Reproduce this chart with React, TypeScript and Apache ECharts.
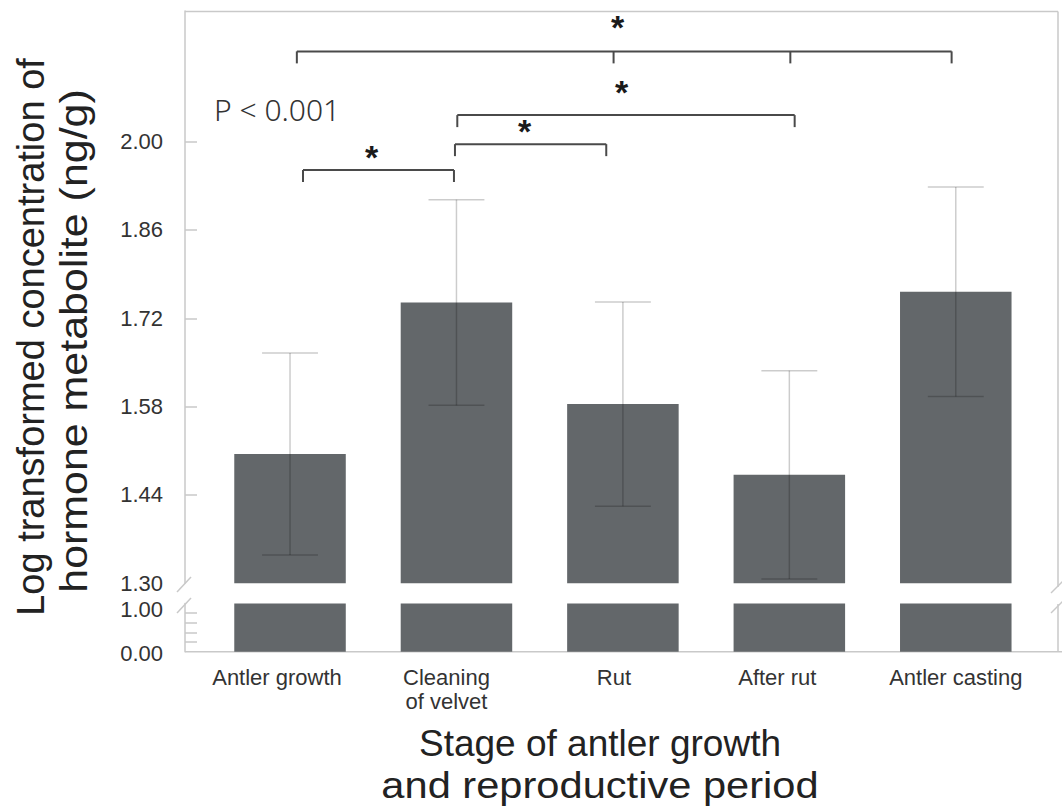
import React, { useEffect, useRef } from "react";
import * as echarts from "echarts";

// ---- data ----
const categories = ["Antler growth", "Cleaning\nof velvet", "Rut", "After rut", "Antler casting"];
const means = [1.505, 1.745, 1.584, 1.472, 1.762];
const errors = [0.16, 0.163, 0.162, 0.165, 0.166];
const upperTicks = [1.3, 1.44, 1.58, 1.72, 1.86, 2.0];
const upperMinorTicks = [1.44, 1.58, 1.72, 1.86, 2.0];
const lowerTicks = [0.0, 1.0];
const lowerMinorTicks = [0.2, 0.4, 0.6, 0.8];
// significance brackets: level (y value) and end/tick positions (category units)
const bracketLevels = [1.955, 1.996, 2.042, 2.143];
const bracketEnds = [
  [0.078, 0.985],
  [0.991, 1.9],
  [1.005, 3.032],
  [0.041, 1.944, 3.006, 3.975],
];
const starX = [0.49, 1.409, 1.992, 1.968];
const starY = [1.982, 2.023, 2.085, 2.188];
const pText = "P < 0.001";
const yTitle = ["Log transformed concentration of", "hormone metabolite (ng/g)"];
const xTitle = ["Stage of antler growth", "and reproductive period"];

// ---- layout / style ----
const BASE = 1.3;
const UPPER_MAX = 2.207;
const W = 1062;
const H = 809;
const GRID_LEFT = 206.8;
const GRID_RIGHT = 23;
const UP_TOP = 11;
const UP_BOTTOM = 583.3;
const LO_TOP = 603.5;
const LO_BOTTOM = 651.7;
const AXIS_X = 185;
const FRAME_R = 1058;
const BAR_COLOR = "#63676a";
const AXIS_COLOR = "#c9c9c9";
const FONT = "'Liberation Sans', Arial, sans-serif";
const labelShift = [26, 20, 18, 24, 0];

export default function App() {
  const ref = useRef<HTMLDivElement>(null);
  useEffect(() => {
    if (!ref.current) return;
    const chart = echarts.init(ref.current, null, { renderer: "svg" });

    const lineStyle = { stroke: AXIS_COLOR, lineWidth: 1.5 };
    const line = (x1: number, y1: number, x2: number, y2: number) => ({
      type: "line",
      shape: { x1, y1, x2, y2 },
      style: lineStyle,
      silent: true,
    });

    const yLabel = {
      margin: 22,
      fontSize: 22,
      color: "#333",
      fontFamily: FONT,
    };

    const titleText = (text: string, x: number, y: number, rotation: number, scaleX: number, fontSize: number) => ({
      type: "text",
      x,
      y,
      rotation,
      scaleX,
      style: {
        text,
        fontSize,
        fontFamily: FONT,
        fill: "#222",
        align: "center",
        verticalAlign: "middle",
      },
    });

    const option: any = {
      animation: false,
      backgroundColor: "#ffffff",
      grid: [
        { left: GRID_LEFT, right: GRID_RIGHT, top: UP_TOP, height: UP_BOTTOM - UP_TOP },
        { left: GRID_LEFT, right: GRID_RIGHT, top: LO_TOP, height: LO_BOTTOM - LO_TOP },
      ],
      xAxis: [
        { type: "category", gridIndex: 0, data: categories, show: false },
        {
          type: "category",
          gridIndex: 1,
          data: categories.map((c, i) => ({ value: c, textStyle: { padding: [0, labelShift[i], 0, 0] } })),
          axisLine: { show: false },
          axisTick: { show: false },
          axisLabel: {
            margin: 14,
            fontSize: 22,
            lineHeight: 24,
            color: "#333",
            fontFamily: FONT,
            interval: 0,
          },
        },
        { type: "value", gridIndex: 0, min: -0.5, max: 4.5, show: false },
      ],
      yAxis: [
        {
          type: "value",
          gridIndex: 0,
          min: 0,
          max: UPPER_MAX - BASE,
          offset: GRID_LEFT - AXIS_X,
          splitLine: { show: false },
          axisLine: { show: true, onZero: false, lineStyle: { color: AXIS_COLOR, width: 1.5 } },
          axisTick: {
            show: true,
            inside: true,
            length: 12,
            lineStyle: { color: AXIS_COLOR, width: 1.5 },
            customValues: upperMinorTicks.map((t) => +(t - BASE).toFixed(4)),
          },
          axisLabel: {
            ...yLabel,
            lineHeight: 22,
            customValues: upperTicks.map((t) => +(t - BASE).toFixed(4)),
            formatter: (v: number) => (v + BASE).toFixed(2),
          },
        },
        {
          type: "value",
          gridIndex: 1,
          min: 0,
          max: 1,
          offset: GRID_LEFT - AXIS_X,
          splitLine: { show: false },
          axisLine: { show: true, onZero: false, lineStyle: { color: AXIS_COLOR, width: 1.5 } },
          axisTick: {
            show: true,
            inside: true,
            length: 12,
            lineStyle: { color: AXIS_COLOR, width: 1.5 },
            customValues: lowerMinorTicks,
          },
          axisLabel: {
            ...yLabel,
            customValues: lowerTicks,
            formatter: (v: number) => (v >= 1 ? "{hi|" + v.toFixed(2) + "}" : "{lo|" + v.toFixed(2) + "}"),
            rich: {
              hi: { fontSize: 22, fontFamily: FONT, color: "#333", lineHeight: 22, padding: [12, 0, 0, 0] },
              lo: { fontSize: 22, fontFamily: FONT, color: "#333", lineHeight: 22, padding: [4, 0, 0, 0] },
            },
          },
        },
      ],
      series: [
        {
          type: "bar",
          xAxisIndex: 0,
          yAxisIndex: 0,
          data: means.map((m) => m - BASE),
          barWidth: "67%",
          itemStyle: { color: BAR_COLOR },
          silent: true,
        },
        {
          type: "bar",
          xAxisIndex: 1,
          yAxisIndex: 1,
          data: means.map((m) => Math.min(m, 1)),
          barWidth: "67%",
          itemStyle: { color: BAR_COLOR },
          silent: true,
        },
        {
          type: "custom",
          xAxisIndex: 0,
          yAxisIndex: 0,
          silent: true,
          data: means.map((m, i) => [i, m - errors[i] - BASE, m + errors[i] - BASE]),
          renderItem: (params: any, api: any) => {
            const x = api.value(0);
            const lo = api.coord([x, api.value(1)]);
            const hi = api.coord([x, api.value(2)]);
            const half = api.size([1, 0])[0] * 0.168;
            const st = { stroke: "rgba(0,0,0,0.2)", lineWidth: 1.5 };
            return {
              type: "group",
              children: [
                { type: "line", shape: { x1: lo[0], y1: lo[1], x2: hi[0], y2: hi[1] }, style: st },
                { type: "line", shape: { x1: hi[0] - half, y1: hi[1], x2: hi[0] + half, y2: hi[1] }, style: st },
                { type: "line", shape: { x1: lo[0] - half, y1: lo[1], x2: lo[0] + half, y2: lo[1] }, style: st },
              ],
            };
          },
          z: 5,
        },
        {
          type: "custom",
          xAxisIndex: 2,
          yAxisIndex: 0,
          silent: true,
          clip: false,
          data: bracketLevels.map((lv, i) => [i, lv - BASE]),
          renderItem: (params: any, api: any) => {
            const i = params.dataIndex;
            const lv = api.value(1);
            const ends = bracketEnds[i];
            const st = { stroke: "#4a4a4a", lineWidth: 2 };
            const p0 = api.coord([ends[0], lv]);
            const p1 = api.coord([ends[ends.length - 1], lv]);
            const children: any[] = [
              { type: "line", shape: { x1: p0[0], y1: p0[1], x2: p1[0], y2: p1[1] }, style: st },
            ];
            ends.forEach((e) => {
              const p = api.coord([e, lv]);
              children.push({ type: "line", shape: { x1: p[0], y1: p[1], x2: p[0], y2: p[1] + 12 }, style: st });
            });
            const s = api.coord([starX[i], starY[i] - BASE]);
            children.push({
              type: "text",
              x: s[0],
              y: s[1] + 4,
              style: {
                text: "*",
                fontSize: 34,
                fontWeight: "bold",
                fontFamily: FONT,
                fill: "#1a1a1a",
                align: "center",
                verticalAlign: "middle",
              },
            });
            return { type: "group", children };
          },
          z: 6,
        },
      ],
      graphic: [
        line(AXIS_X, UP_TOP + 0.5, FRAME_R, UP_TOP + 0.5),
        line(FRAME_R, UP_TOP + 0.5, FRAME_R, 587),
        line(FRAME_R, 604, FRAME_R, LO_BOTTOM),
        line(AXIS_X, LO_BOTTOM, 1062, LO_BOTTOM),
        line(177, 592, 191, 577),
        line(177, 613, 191, 598),
        line(1051, 593, 1063, 581),
        line(1051, 613, 1063, 601),
        {
          type: "text",
          x: 214,
          y: 109,
          style: {
            text: pText,
            fontSize: 30,
            fontFamily: "'Noto Sans', 'DejaVu Sans', sans-serif",
            fontWeight: 300,
            fill: "#333",
            align: "left",
            verticalAlign: "middle",
          },
        },
        titleText(yTitle[0], 31, 337, Math.PI / 2, 1, 38),
        titleText(yTitle[1], 74, 341, Math.PI / 2, 1.13, 38),
        titleText(xTitle[0], 600, 743, 0, 1, 37),
        titleText(xTitle[1], 600, 785, 0, 1.125, 37),
      ],
    };

    chart.setOption(option);
    return () => chart.dispose();
  }, []);

  return <div ref={ref} style={{ position: "fixed", left: 0, top: 0, width: W, height: H }} />;
}
